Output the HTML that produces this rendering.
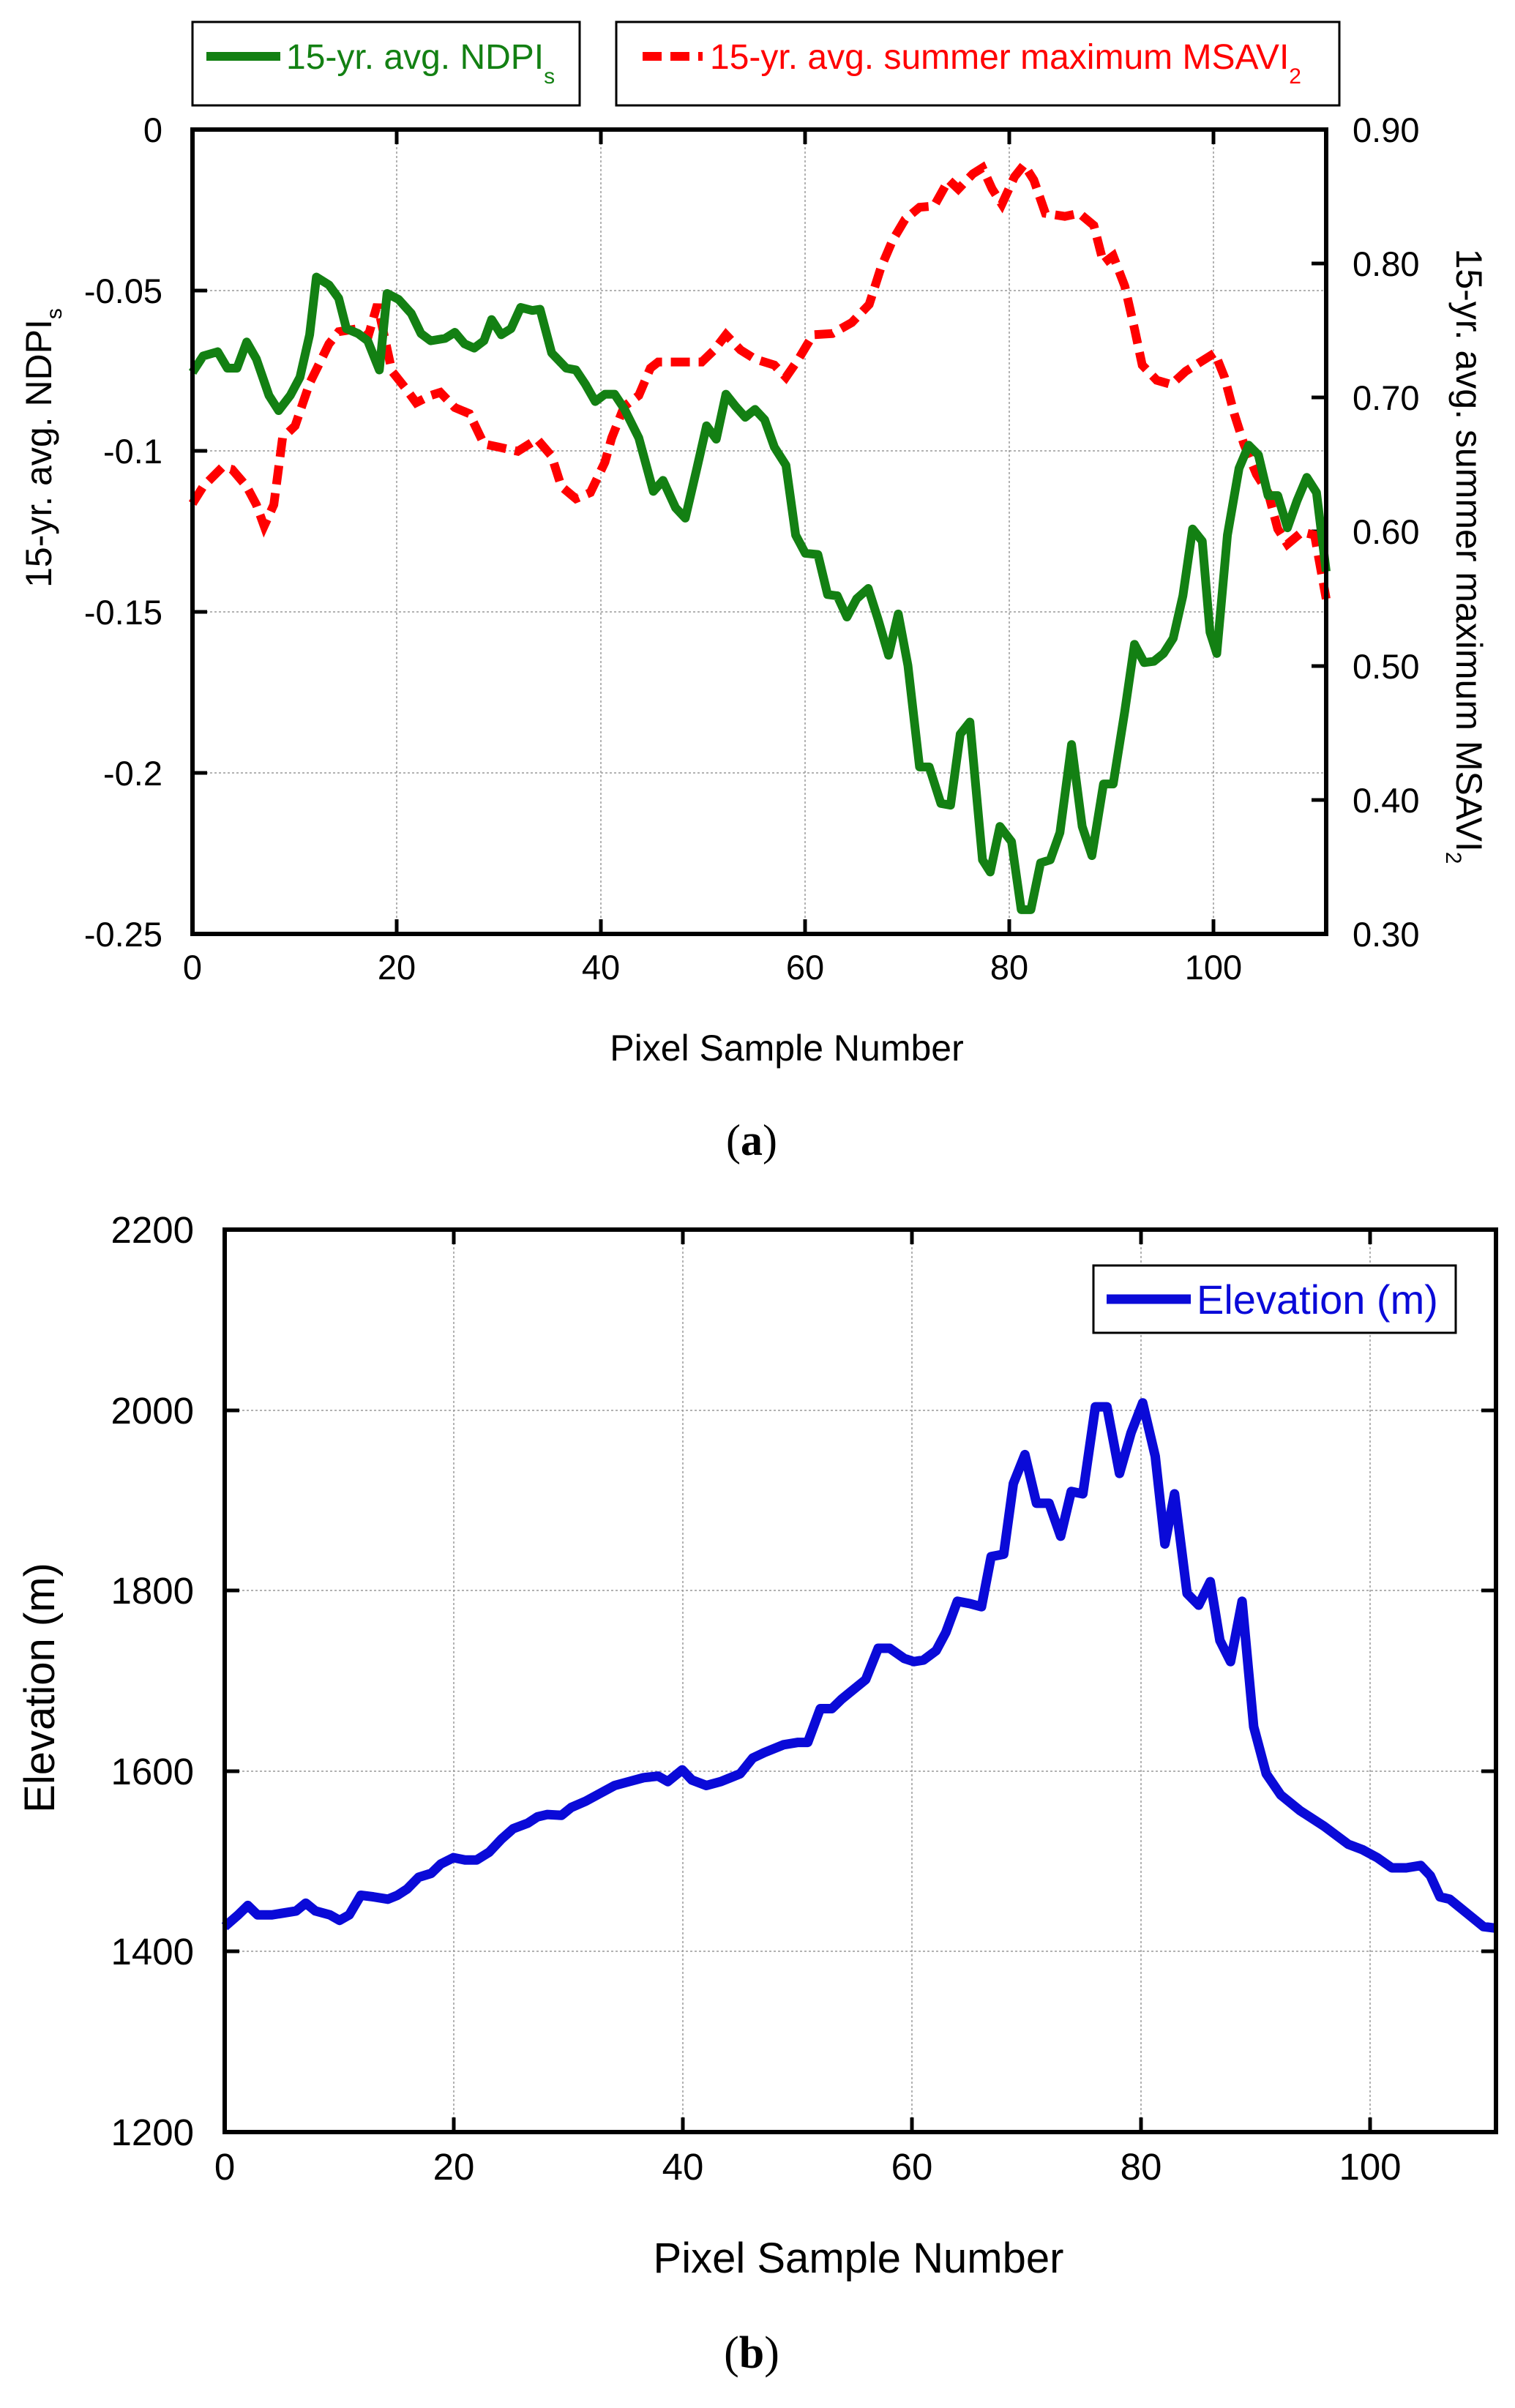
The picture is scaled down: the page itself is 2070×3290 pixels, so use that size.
<!DOCTYPE html>
<html><head><meta charset="utf-8"><style>
html,body{margin:0;padding:0;background:#fff;}
svg text{font-family:"Liberation Sans",sans-serif;}
</style></head><body>
<svg width="2070" height="3285" viewBox="0 0 2070 3285" xmlns="http://www.w3.org/2000/svg">
<!-- PANEL A -->
<g stroke="#999" stroke-width="1.5" stroke-dasharray="3,3">
<line x1="542" y1="177" x2="542" y2="1276"/><line x1="821" y1="177" x2="821" y2="1276"/><line x1="1100" y1="177" x2="1100" y2="1276"/><line x1="1379" y1="177" x2="1379" y2="1276"/><line x1="1658" y1="177" x2="1658" y2="1276"/>
<line x1="263" y1="397" x2="1812" y2="397"/><line x1="263" y1="616" x2="1812" y2="616"/><line x1="263" y1="836" x2="1812" y2="836"/><line x1="263" y1="1056" x2="1812" y2="1056"/>
</g>
<g stroke="#000" stroke-width="5">
<line x1="542" y1="177" x2="542" y2="197"/><line x1="821" y1="177" x2="821" y2="197"/><line x1="1100" y1="177" x2="1100" y2="197"/><line x1="1379" y1="177" x2="1379" y2="197"/><line x1="1658" y1="177" x2="1658" y2="197"/>
<line x1="542" y1="1276" x2="542" y2="1256"/><line x1="821" y1="1276" x2="821" y2="1256"/><line x1="1100" y1="1276" x2="1100" y2="1256"/><line x1="1379" y1="1276" x2="1379" y2="1256"/><line x1="1658" y1="1276" x2="1658" y2="1256"/>
<line x1="263" y1="397" x2="283" y2="397"/><line x1="263" y1="616" x2="283" y2="616"/><line x1="263" y1="836" x2="283" y2="836"/><line x1="263" y1="1056" x2="283" y2="1056"/>
<line x1="1812" y1="360" x2="1792" y2="360"/><line x1="1812" y1="543" x2="1792" y2="543"/><line x1="1812" y1="726" x2="1792" y2="726"/><line x1="1812" y1="910" x2="1792" y2="910"/><line x1="1812" y1="1093" x2="1792" y2="1093"/>
</g>
<g transform="translate(263,177) scale(1.32280,0.82943) translate(-199,-212)" fill="none">
<polyline vector-effect="non-scaling-stroke" stroke="#ff0000" stroke-width="12" stroke-dasharray="26,12" points="199,828 210,800 230,768 240,772 255,800 265,830 273,865 283,830 292,720 305,700 320,630 340,565 350,545 370,540 380,555 390,500 405,610 420,640 430,662 445,650 455,645 470,670 485,680 500,730 515,735 535,742 555,722 570,750 580,800 595,820 610,810 625,760 632,720 645,668 660,650 672,605 680,595 705,595 725,595 738,575 750,550 765,575 780,590 800,600 812,620 825,590 840,550 860,548 880,530 898,500 910,440 922,395 935,360 950,340 965,338 980,295 990,310 1005,285 1015,275 1025,310 1035,335 1048,290 1058,270 1068,295 1080,350 1100,355 1115,350 1130,370 1140,432 1150,420 1162,470 1172,540 1180,600 1195,625 1210,632 1225,610 1240,595 1255,580 1265,620 1275,680 1285,730 1298,780 1310,810 1320,870 1330,895 1345,875 1358,880 1370,985"/>
<polyline vector-effect="non-scaling-stroke" stroke="#138013" stroke-width="12" stroke-linejoin="round" points="199,612 210,585 225,578 235,605 245,605 255,562 265,590 278,650 288,675 300,650 310,620 320,550 327,455 340,468 350,490 358,540 370,548 380,560 392,608 400,482 412,492 425,515 435,548 445,560 460,556 470,546 480,565 490,572 500,560 508,525 518,550 528,540 538,505 550,510 558,508 570,580 585,605 595,608 605,632 615,660 625,648 635,648 645,672 660,720 675,808 685,790 698,835 708,852 720,770 730,700 740,722 750,648 760,668 770,686 780,673 790,690 800,735 812,765 822,880 832,910 845,912 855,978 865,980 875,1015 885,985 897,968 907,1018 918,1078 928,1010 938,1095 950,1262 960,1262 972,1322 982,1325 992,1208 1002,1188 1015,1415 1023,1435 1033,1360 1045,1385 1055,1497 1065,1497 1075,1420 1085,1415 1095,1370 1107,1225 1118,1360 1128,1408 1140,1290 1150,1290 1162,1170 1172,1060 1182,1090 1192,1088 1202,1075 1212,1050 1222,980 1232,870 1242,890 1250,1040 1257,1075 1268,880 1280,770 1290,732 1300,748 1310,815 1320,815 1330,868 1340,823 1350,785 1360,810 1370,940"/>
</g>
<rect x="263" y="177" width="1549" height="1099" fill="none" stroke="#000" stroke-width="6"/>
<g font-size="47" text-anchor="end" fill="#000">
<text x="222" y="194">0</text><text x="222" y="414">-0.05</text><text x="222" y="633">-0.1</text><text x="222" y="853">-0.15</text><text x="222" y="1073">-0.2</text><text x="222" y="1293">-0.25</text>
</g>
<g font-size="47" fill="#000">
<text x="1848" y="194">0.90</text><text x="1848" y="377">0.80</text><text x="1848" y="560">0.70</text><text x="1848" y="743">0.60</text><text x="1848" y="927">0.50</text><text x="1848" y="1110">0.40</text><text x="1848" y="1293">0.30</text>
</g>
<g font-size="47" text-anchor="middle" fill="#000">
<text x="263" y="1338">0</text><text x="542" y="1338">20</text><text x="821" y="1338">40</text><text x="1100" y="1338">60</text><text x="1379" y="1338">80</text><text x="1658" y="1338">100</text>
<text x="1075" y="1449" font-size="50">Pixel Sample Number</text>
</g>
<text x="1027" y="1578" font-size="60" text-anchor="middle" style="font-family:'Liberation Serif',serif">(<tspan font-weight="bold">a</tspan>)</text>
<text transform="translate(70,612) rotate(-90)" font-size="50" text-anchor="middle">15-yr. avg. NDPI<tspan font-size="30" dy="14">s</tspan></text>
<text transform="translate(1990,760) rotate(90)" font-size="50" text-anchor="middle">15-yr. avg. summer maximum MSAVI<tspan font-size="30" dy="14">2</tspan></text>
<!-- legends a -->
<rect x="263" y="30" width="529" height="114" fill="none" stroke="#000" stroke-width="3"/>
<line x1="282" y1="77" x2="383" y2="77" stroke="#138013" stroke-width="12"/>
<text x="391" y="94" font-size="48" fill="#138013">15-yr. avg. NDPI<tspan font-size="30" dy="20">s</tspan></text>
<rect x="842" y="30" width="988" height="114" fill="none" stroke="#000" stroke-width="3"/>
<line x1="878" y1="77" x2="960" y2="77" stroke="#ff0000" stroke-width="12" stroke-dasharray="26,12"/>
<text x="970" y="94" font-size="48" fill="#ff0000">15-yr. avg. summer maximum MSAVI<tspan font-size="30" dy="20">2</tspan></text>

<!-- PANEL B -->
<g stroke="#999" stroke-width="1.5" stroke-dasharray="3,3">
<line x1="620" y1="1680" x2="620" y2="2913"/><line x1="933" y1="1680" x2="933" y2="2913"/><line x1="1246" y1="1680" x2="1246" y2="2913"/><line x1="1559" y1="1680" x2="1559" y2="2913"/><line x1="1872" y1="1680" x2="1872" y2="2913"/>
<line x1="307" y1="1927" x2="2044" y2="1927"/><line x1="307" y1="2173" x2="2044" y2="2173"/><line x1="307" y1="2420" x2="2044" y2="2420"/><line x1="307" y1="2666" x2="2044" y2="2666"/>
</g>
<g stroke="#000" stroke-width="5">
<line x1="620" y1="1680" x2="620" y2="1700"/><line x1="933" y1="1680" x2="933" y2="1700"/><line x1="1246" y1="1680" x2="1246" y2="1700"/><line x1="1559" y1="1680" x2="1559" y2="1700"/><line x1="1872" y1="1680" x2="1872" y2="1700"/>
<line x1="620" y1="2913" x2="620" y2="2893"/><line x1="933" y1="2913" x2="933" y2="2893"/><line x1="1246" y1="2913" x2="1246" y2="2893"/><line x1="1559" y1="2913" x2="1559" y2="2893"/><line x1="1872" y1="2913" x2="1872" y2="2893"/>
<line x1="307" y1="1927" x2="327" y2="1927"/><line x1="307" y1="2173" x2="327" y2="2173"/><line x1="307" y1="2420" x2="327" y2="2420"/><line x1="307" y1="2666" x2="327" y2="2666"/>
<line x1="2044" y1="1927" x2="2024" y2="1927"/><line x1="2044" y1="2173" x2="2024" y2="2173"/><line x1="2044" y1="2420" x2="2024" y2="2420"/><line x1="2044" y1="2666" x2="2024" y2="2666"/>
</g>
<g transform="translate(307,1680) scale(1.31891,1.07124) translate(-231,-71)" fill="none">
<polyline vector-effect="non-scaling-stroke" stroke="#0a0ad8" stroke-width="13" stroke-linejoin="round" points="231,960 245,945 255,933 265,945 280,945 295,942 305,940 315,930 325,940 340,945 350,952 360,945 372,920 385,922 400,925 410,920 420,912 432,897 445,892 455,880 468,872 480,875 492,875 505,865 518,848 530,835 545,828 555,820 565,817 580,818 590,808 605,800 620,790 635,780 650,775 665,770 680,768 690,775 695,770 705,760 715,773 730,780 745,775 755,770 765,765 778,745 790,738 810,728 825,725 835,725 848,682 860,682 870,670 880,660 895,645 908,605 920,605 935,618 945,622 955,620 968,608 978,585 990,545 1003,548 1015,552 1025,488 1038,485 1048,395 1060,358 1072,420 1085,420 1097,462 1108,405 1120,408 1133,297 1145,297 1158,382 1170,330 1182,292 1195,360 1205,472 1215,408 1228,535 1240,550 1252,520 1262,595 1273,622 1285,545 1297,705 1310,765 1325,792 1345,812 1370,832 1395,855 1410,862 1425,872 1440,885 1455,885 1470,882 1480,895 1490,922 1500,925 1520,945 1535,960 1548,962"/>
</g>
<rect x="307" y="1680" width="1737" height="1233" fill="none" stroke="#000" stroke-width="6"/>
<g font-size="51" text-anchor="end" fill="#000">
<text x="265" y="1698">2200</text><text x="265" y="1945">2000</text><text x="265" y="2191">1800</text><text x="265" y="2438">1600</text><text x="265" y="2684">1400</text><text x="265" y="2931">1200</text>
</g>
<g font-size="51" text-anchor="middle" fill="#000">
<text x="307" y="2978">0</text><text x="620" y="2978">20</text><text x="933" y="2978">40</text><text x="1246" y="2978">60</text><text x="1559" y="2978">80</text><text x="1872" y="2978">100</text>
<text x="1173" y="3105" font-size="58">Pixel Sample Number</text>
</g>
<text x="1027" y="3235" font-size="62" text-anchor="middle" style="font-family:'Liberation Serif',serif">(<tspan font-weight="bold">b</tspan>)</text>
<text transform="translate(74,2306) rotate(-90)" font-size="58" text-anchor="middle">Elevation (m)</text>
<rect x="1494" y="1729" width="495" height="92" fill="#fff" stroke="#000" stroke-width="3"/>
<line x1="1512" y1="1775" x2="1627" y2="1775" stroke="#0a0ad8" stroke-width="13"/>
<text x="1635" y="1795" font-size="56" fill="#0a0ad8">Elevation (m)</text>
</svg>
</body></html>
